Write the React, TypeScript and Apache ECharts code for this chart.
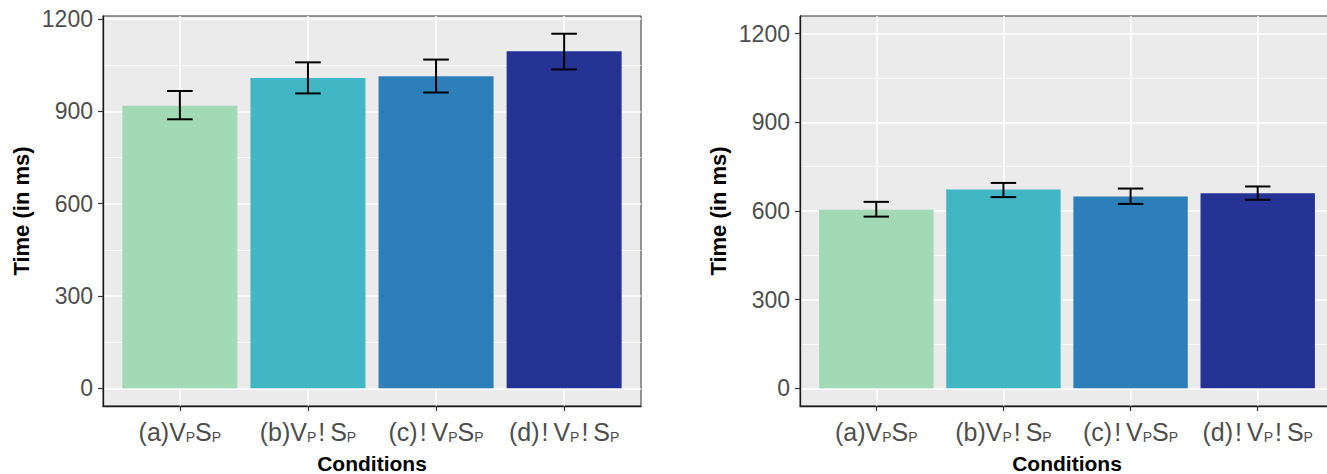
import React, { useEffect, useRef } from "react";
import * as echarts from "echarts";

// ---- data ----
const categoryLabels = [
  "{m|(a)V}{s|P}{m|S}{s|P}",
  "{m|(b)V}{s|P}{e|!}{m|S}{s|P}",
  "{m|(c)}{e|!}{m|V}{s|P}{m|S}{s|P}",
  "{m|(d)}{e|!}{m|V}{s|P}{e|!}{m|S}{s|P}",
];
const positions = [1, 2, 3, 4];
const majorTicks = [0, 300, 600, 900, 1200];
const minorTicks = [150, 450, 750, 1050];

const leftMeans = [918, 1008, 1014, 1095];
const leftLower = [874, 958, 961, 1036];
const leftUpper = [966, 1059, 1068, 1152];

const rightMeans = [604, 673, 649, 660];
const rightLower = [581, 647, 624, 638];
const rightUpper = [631, 695, 676, 683];

const barColors = ["#A1DAB4", "#41B6C4", "#2C7FB8", "#253494"];

const FONT = "'Liberation Sans', Arial, sans-serif";

export default function App() {
  const ref = useRef<HTMLDivElement>(null);

  useEffect(() => {
    if (!ref.current) return;
    const chart = echarts.init(ref.current, null, { renderer: "svg" });

    const rich = {
      m: { fontSize: 25, color: "#4D4D4D", fontFamily: FONT, lineHeight: 28, verticalAlign: "bottom" },
      s: { fontSize: 14, color: "#4D4D4D", fontFamily: FONT, lineHeight: 17, verticalAlign: "bottom" },
      e: { fontSize: 25, color: "#4D4D4D", fontFamily: FONT, lineHeight: 28, verticalAlign: "bottom", padding: [0, 5, 0, 2] },
    };

    const makeX = (gridIndex: number) => ({
      gridIndex,
      type: "value",
      min: 0.4,
      max: 4.6,
      axisLine: { show: true, onZero: false, lineStyle: { color: "#1a1a1a", width: 1.3 } },
      axisTick: { show: true, length: 5, customValues: positions, lineStyle: { color: "#333", width: 1.2 } },
      axisLabel: {
        customValues: positions,
        margin: 10,
        formatter: (v: number) => categoryLabels[Math.round(v) - 1],
        rich,
      },
      splitLine: { show: true, lineStyle: { color: "#ffffff", width: 1.6 } },
      name: "Conditions",
      nameLocation: "middle",
      nameGap: 47,
      nameTextStyle: { fontWeight: "bold", fontSize: 21, lineHeight: 21, color: "#000", fontFamily: FONT },
    });

    const makeY = (gridIndex: number, min: number, max: number) => ({
      gridIndex,
      type: "value",
      min,
      max,
      axisLine: { show: true, onZero: false, lineStyle: { color: "#1a1a1a", width: 1.3 } },
      axisTick: { show: true, length: 5, customValues: majorTicks, lineStyle: { color: "#333", width: 1.2 } },
      axisLabel: {
        customValues: majorTicks,
        margin: 10,
        fontSize: 23,
        color: "#4D4D4D",
        fontFamily: FONT,
        formatter: (v: number) => String(v),
      },
      splitLine: { show: true, lineStyle: { color: "#ffffff", width: 1.6 } },
      name: "Time (in ms)",
      nameLocation: "middle",
      nameGap: 71,
      nameTextStyle: { fontWeight: "bold", fontSize: 22, color: "#000", fontFamily: FONT },
    });

    const makeMinorY = (gridIndex: number, min: number, max: number) => ({
      gridIndex,
      type: "value",
      position: "left",
      min,
      max,
      axisLine: { show: false },
      axisTick: { show: false, customValues: minorTicks },
      axisLabel: { show: false, customValues: minorTicks },
      splitLine: { show: true, lineStyle: { color: "#ffffff", width: 0.8 } },
    });

    const renderErr = (params: any, api: any) => {
      const x = api.value(0);
      const lo = api.value(1);
      const hi = api.value(2);
      const pTop = api.coord([x, hi]);
      const pBot = api.coord([x, lo]);
      const pL = api.coord([x - 0.1, hi]);
      const pR = api.coord([x + 0.1, hi]);
      const half = (pR[0] - pL[0]) / 2;
      const style = { stroke: "#000", lineWidth: 2 };
      return {
        type: "group",
        children: [
          { type: "line", shape: { x1: pTop[0], y1: pTop[1], x2: pBot[0], y2: pBot[1] }, style },
          { type: "line", shape: { x1: pTop[0] - half, y1: pTop[1], x2: pTop[0] + half, y2: pTop[1] }, style },
          { type: "line", shape: { x1: pBot[0] - half, y1: pBot[1], x2: pBot[0] + half, y2: pBot[1] }, style },
        ],
      };
    };

    const barSeries = (xi: number, yi: number, means: number[], width: number) => ({
      type: "bar",
      xAxisIndex: xi,
      yAxisIndex: yi,
      barWidth: width,
      data: positions.map((p, i) => ({ value: [p, means[i]], itemStyle: { color: barColors[i] } })),
      z: 2,
    });

    const errSeries = (xi: number, yi: number, lower: number[], upper: number[]) => ({
      type: "custom",
      xAxisIndex: xi,
      yAxisIndex: yi,
      renderItem: renderErr,
      encode: { x: 0, y: [1, 2] },
      data: positions.map((p, i) => [p, lower[i], upper[i]]),
      z: 5,
    });

    const gridCommon = {
      show: true,
      backgroundColor: "#EBEBEB",
      borderColor: "#333",
      borderWidth: 1,
      top: 16,
      height: 390,
      containLabel: false,
      outerBoundsMode: "none",
    };

    chart.setOption({
      animation: false,
      backgroundColor: "#ffffff",
      textStyle: { fontFamily: FONT },
      grid: [
        { ...gridCommon, left: 103, width: 538 },
        { ...gridCommon, left: 800, width: 534 },
      ],
      xAxis: [makeX(0), makeX(1)],
      yAxis: [
        makeY(0, -57.6, 1209.6),
        makeMinorY(0, -57.6, 1209.6),
        makeY(1, -60, 1260),
        makeMinorY(1, -60, 1260),
      ],
      series: [
        barSeries(0, 0, leftMeans, 115),
        errSeries(0, 0, leftLower, leftUpper),
        barSeries(1, 2, rightMeans, 114.4),
        errSeries(1, 2, rightLower, rightUpper),
      ],
    });

    return () => chart.dispose();
  }, []);

  return (
    <div
      ref={ref}
      style={{ position: "absolute", left: 0, top: 0, width: 1327, height: 474, background: "#fff" }}
    />
  );
}
